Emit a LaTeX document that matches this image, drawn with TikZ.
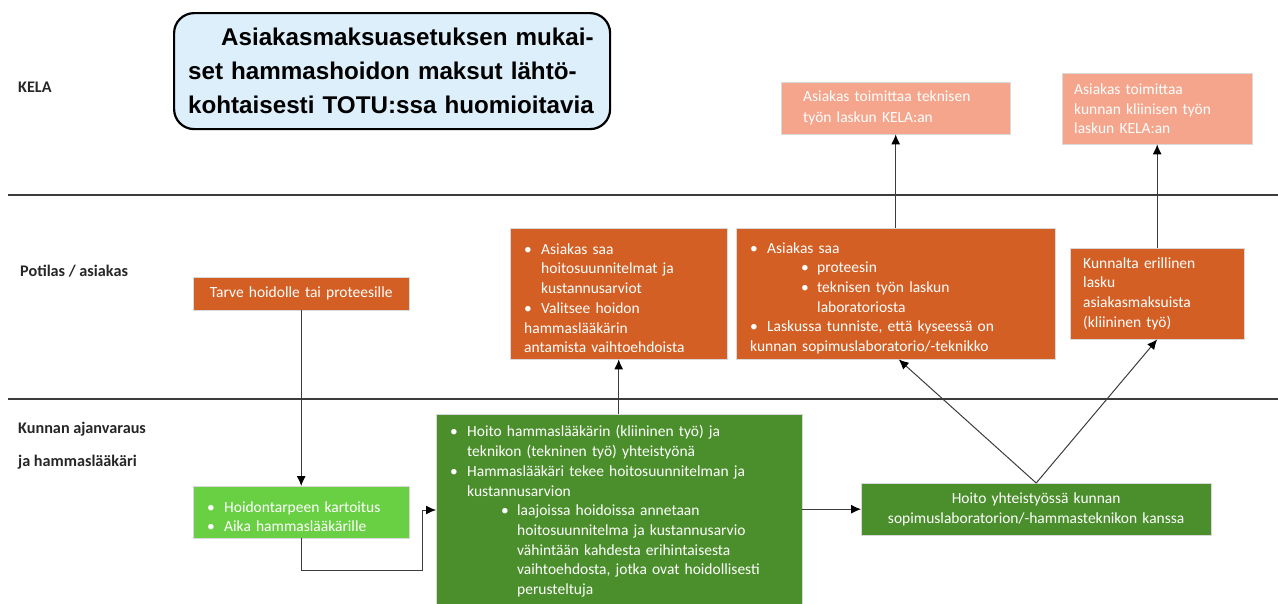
\documentclass[tikz,border=0pt]{standalone}
\usepackage{fontspec}
\setmainfont{Carlito}
\newfontfamily\titlefont{Liberation Sans}
\usetikzlibrary{arrows.meta}
\definecolor{titleblue}{HTML}{DDEFFA}
\definecolor{kelasalmon}{HTML}{F4A58B}
\definecolor{potorange}{HTML}{D35F24}
\definecolor{careltgreen}{HTML}{69D043}
\definecolor{caredkgreen}{HTML}{4B8F2C}
\definecolor{lanegray}{HTML}{3C3C3C}
\newcommand{\bitem}[1]{\par\noindent\hangindent=17pt\hangafter=1\makebox[17pt][l]{\textbullet}#1}
\newcommand{\sitem}[1]{\par\noindent\hangindent=67pt\hangafter=1\hspace*{51pt}\makebox[16pt][l]{\textbullet}#1}
\begin{document}
\begin{tikzpicture}[x=1pt,y=-1pt,
    lane/.style={draw=lanegray,line width=1.6pt},
    lanelabel/.style={anchor=west,inner sep=0pt,font=\fontsize{16.2}{18}\selectfont\bfseries,text=black!85},
    box/.style={anchor=north west,text=white,font=\fontsize{15.5}{19.7}\selectfont,align=left,inner xsep=14pt,inner ysep=0pt,draw=white!85!black,line width=0.4pt},
    kelabox/.style={box,fill=kelasalmon},
    potbox/.style={box,fill=potorange},
    arr/.style={draw=lanegray,line width=1pt,-{Latex[length=10pt,width=9pt,black]}}]
  \useasboundingbox (0,0) rectangle (1278,603);
  \draw[lane] (8,195) -- (1278,195);
  \draw[lane] (8,399) -- (1278,399);
  \node[lanelabel] (kela) at (18,87) {KELA};
  \node[lanelabel] (potilas) at (20,271) {Potilas / asiakas};
  \node[lanelabel] (kunta1) at (18,429) {Kunnan ajanvaraus};
  \node[lanelabel] (kunta2) at (18,462) {ja hammaslääkäri};
  \node[anchor=north west,draw=black,line width=2.2pt,rounded corners=20pt,fill=titleblue,
    minimum width=436pt,minimum height=116pt,text width=408pt,inner xsep=14pt,align=left,
    font=\titlefont\bfseries\fontsize{24.2}{34}\selectfont] (title) at (173,12)
    {\hspace*{33pt}Asiakasmaksuasetuksen mukai-\\set hammashoidon maksut lähtö-\\kohtaisesti TOTU:ssa huomioitavia};
  % KELA
  \node[kelabox,inner xsep=22pt,text width=185pt,minimum height=52pt,font=\fontsize{15.5}{21}\selectfont] (kelaA) at (781,82)
    {Asiakas toimittaa teknisen\\työn laskun KELA:an};
  \node[kelabox,inner xsep=12pt,text width=166pt,minimum height=71pt] (kelaB) at (1062,73)
    {Asiakas toimittaa\\kunnan kliinisen työn\\laskun KELA:an};
  % potilas / asiakas
  \node[potbox,align=center,text width=188pt,minimum height=33pt] (tarve) at (193,277)
    {Tarve hoidolle tai proteesille};
  \node[potbox,text width=189pt,minimum height=131pt] (planA) at (510,228)
    {\bitem{Asiakas saa\newline hoitosuunnitelmat ja\newline kustannusarviot}
     \bitem{Valitsee hoidon\newline hammaslääkärin\newline antamista\ vaihtoehdoista}};
  \node[potbox,text width=291pt,minimum height=131pt] (labB) at (736,228)
    {\bitem{Asiakas saa}
     \sitem{proteesin}
     \sitem{teknisen työn laskun\newline laboratoriosta}
     \bitem{Laskussa tunniste, että kyseessä on\newline kunnan sopimuslaboratorio/-teknikko}};
  \node[potbox,inner xsep=13pt,text width=148pt,minimum height=91pt] (invoiceC) at (1070,248)
    {Kunnalta erillinen\\lasku\\asiakasmaksuista\\(kliininen työ)};
  % kunta
  \node[box,fill=careltgreen,text width=188pt,minimum height=52pt] (triage) at (193,486)
    {\bitem{Hoidontarpeen kartoitus}
     \bitem{Aika hammaslääkärille}};
  \node[box,fill=caredkgreen,text width=338pt,inner ysep=3pt] (care) at (436,414)
    {\bitem{Hoito hammaslääkärin (kliininen työ) ja\newline teknikon (tekninen työ) yhteistyönä}
     \bitem{Hammaslääkäri tekee hoitosuunnitelman ja\newline kustannusarvion}
     \sitem{laajoissa hoidoissa annetaan\newline hoitosuunnitelma ja kustannusarvio\newline vähintään kahdesta erihintaisesta\newline vaihtoehdosta, jotka ovat hoidollisesti\newline perusteltuja}
     \par\vspace*{40pt}};
  \node[box,fill=caredkgreen,align=center,text width=322pt,minimum height=52pt] (lab) at (861,483)
    {Hoito yhteistyössä kunnan\\sopimuslaboratorion/-hammasteknikon kanssa};
  \coordinate (bend) at (422,570);
  \draw[arr] (tarve.south) -- (tarve.south |- triage.north);
  \draw[arr] (triage.south) |- (bend) |- (care.west |- 0,510);
  \draw[arr] (care.north -| planA.south) -- (planA.south);
  \draw[arr] (care.east |- lab.west) -- (lab.west);
  \draw[arr] (lab.north) -- ([xshift=3pt]labB.south);
  \draw[arr] (lab.north) -- (invoiceC.south);
  \draw[arr] (labB.north) -- (kelaA.south);
  \draw[arr] (invoiceC.north) -- (kelaB.south);
\end{tikzpicture}
\end{document}
